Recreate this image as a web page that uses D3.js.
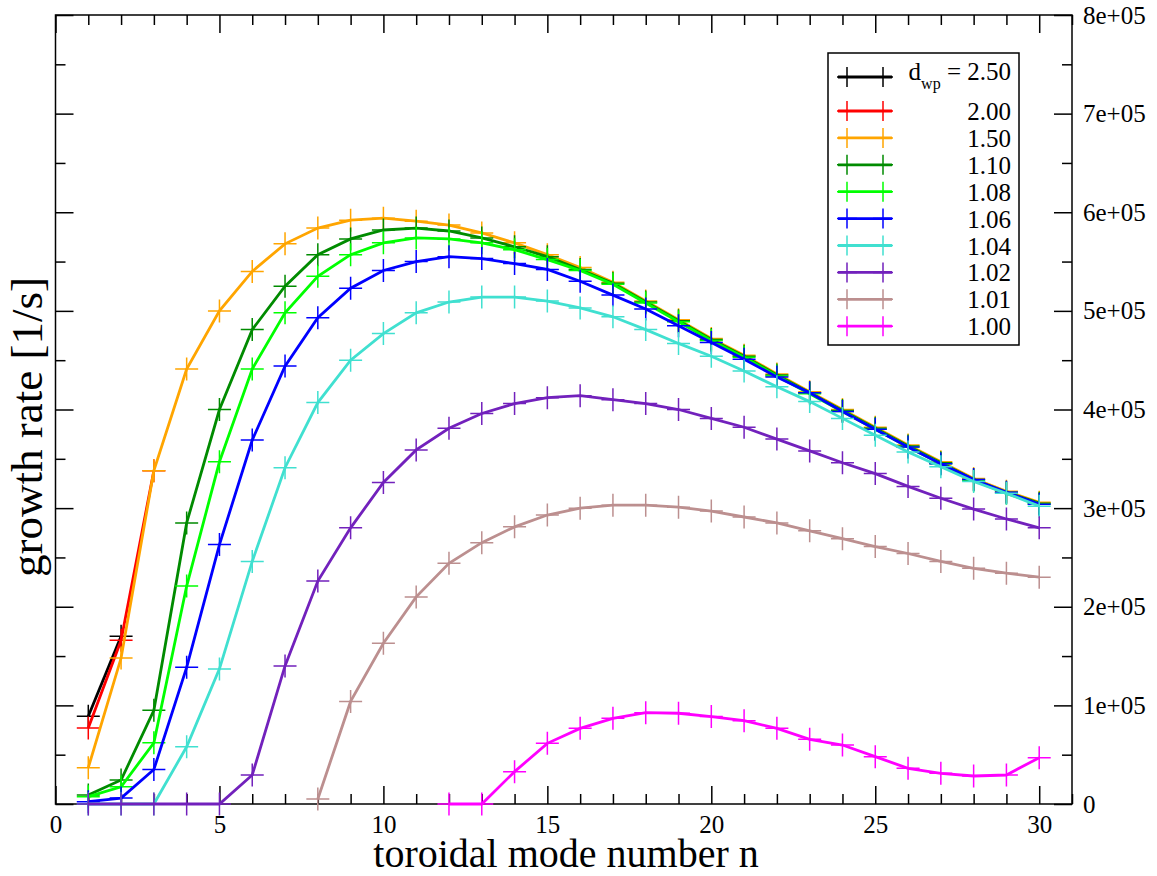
<!DOCTYPE html>
<html>
<head>
<meta charset="utf-8">
<script src="https://cdn.jsdelivr.net/npm/d3@7"></script>
<style>
  body { margin: 0; background: #fff; }
  text { font-family: "Liberation Serif", "Times New Roman", serif; fill: #000; }
</style>
</head>
<body>
<script>
// toroidal mode numbers
var nAll = [1, 2, 3, 4, 5, 6, 7, 8, 9, 10, 11, 12, 13, 14, 15,
            16, 17, 18, 19, 20, 21, 22, 23, 24, 25, 26, 27, 28, 29, 30];

// growth rates [1/s], one array per d_wp
var g250 = [89000, 170000];
var g200 = [77000, 166000, 338000];
var g150 = [36800, 148000, 338000, 441000, 500000, 540000, 568000, 584000, 592000, 594000,
            591000, 587000, 579000, 569000, 557000, 544000, 529000, 510000, 491000, 472000,
            455000, 436000, 418000, 400000, 382000, 364000, 347000, 330000, 317000, 306000];
var g110 = [9100, 24300, 95000, 285000, 400000, 481000, 525000, 557000, 573000, 582000,
            584000, 581000, 574000, 565000, 555000, 542000, 528000, 509000, 490000, 471000,
            454000, 435000, 417000, 399000, 381000, 363000, 346000, 329000, 316000, 305000];
var g108 = [7400, 17500, 62000, 221000, 347000, 441000, 498000, 535000, 557000, 569000,
            574000, 573000, 569000, 562000, 552000, 541000, 527000, 508000, 489000, 470000,
            453000, 434000, 416000, 398000, 380000, 362000, 345000, 328000, 315000, 304000];
var g106 = [2300, 6000, 35000, 138600, 263000, 369000, 444000, 493000, 523000, 541000,
            550000, 555000, 553000, 548000, 542000, 530000, 516000, 502000, 485000, 468000,
            451000, 433000, 417000, 398000, 380000, 362000, 345000, 329000, 316000, 304000];
var g104 = [0, 0, 0, 58000, 137000, 246000, 341000, 407000, 450000, 477000,
            498000, 509000, 514000, 514000, 510000, 503000, 494000, 481000, 467000, 454000,
            439000, 423000, 408000, 391000, 374000, 357000, 342000, 327000, 315000, 302000];
var g102 = [0, 0, 0, 0, 0, 29400, 140000, 226000, 280000, 326000,
            359000, 381000, 396000, 406000, 412000, 414000, 410000, 406000, 400000, 391000,
            382000, 370000, 358000, 346000, 335000, 322000, 310000, 299000, 289000, 280000];
var g101 = [5000, 104000, 163000, 210000, 244000, 265000, 281000, 293000, 300000, 303000,
            303000, 301000, 297000, 291000, 285000, 277000, 269000, 261000, 254000, 246000,
            239000, 234000, 230000];
var g100 = [0, 0, 32800, 61500, 76700, 86900, 92600, 92000, 88600, 84500,
            76700, 65600, 59800, 48000, 36200, 31100, 28400, 29400, 47000];

var firstN = [1, 1, 1, 1, 1, 1, 1, 1, 8, 12];
var dwpLabels = ["2.50", "2.00", "1.50", "1.10", "1.08", "1.06", "1.04", "1.02", "1.01", "1.00"];
var colors = ["#000000", "#ff0000", "#ffa500", "#008b00", "#00ff00", "#0000ff",
              "#40e0d0", "#7221bc", "#bc8f8f", "#ff00ff"];

var xTicks = [0, 5, 10, 15, 20, 25, 30];
var yTicks = [0, 1e5, 2e5, 3e5, 4e5, 5e5, 6e5, 7e5, 8e5];
var yTickLabels = ["0", "1e+05", "2e+05", "3e+05", "4e+05", "5e+05", "6e+05", "7e+05", "8e+05"];

var allSets = [g250, g200, g150, g110, g108, g106, g104, g102, g101, g100];
var series = allSets.map(function(vals, i) {
  return {
    label: dwpLabels[i],
    color: colors[i],
    points: vals.map(function(v, j) { return { n: nAll[firstN[i] - 1 + j], g: v }; })
  };
});

var w = 1157, h = 876;
var plotL = 55.5, plotR = 1072, plotT = 15, plotB = 804;

var svg = d3.select("body").append("svg")
            .attr("width", w)
            .attr("height", h);

svg.append("rect").attr("width", w).attr("height", h).attr("fill", "#fff");

var x = d3.scaleLinear().domain([0, 31]).range([plotL, plotR]);
var y = d3.scaleLinear().domain([0, 8e5]).range([plotB, plotT]);

var minorX = d3.range(0, 32).filter(function(d) { return d % 5 !== 0; });
var minorY = [0.5e5, 1.5e5, 2.5e5, 3.5e5, 4.5e5, 5.5e5, 6.5e5, 7.5e5];

function styleAxis(g) {
  g.selectAll(".domain").remove();
  g.selectAll("line").attr("stroke", "#000").attr("stroke-width", 1.5);
  g.selectAll("text").style("font-family", "'Liberation Serif', 'Times New Roman', serif")
   .attr("font-size", 25).attr("fill", "#000");
}

// bottom axis
svg.append("g").attr("transform", "translate(0," + plotB + ")")
   .call(d3.axisBottom(x).tickValues(xTicks).tickSize(-18).tickPadding(11).tickFormat(d3.format("d")))
   .call(styleAxis);
svg.append("g").attr("transform", "translate(0," + plotB + ")")
   .call(d3.axisBottom(x).tickValues(minorX).tickSize(-10).tickFormat(""))
   .call(styleAxis);

// top axis
svg.append("g").attr("transform", "translate(0," + plotT + ")")
   .call(d3.axisTop(x).tickValues(xTicks).tickSize(-18).tickFormat(""))
   .call(styleAxis);
svg.append("g").attr("transform", "translate(0," + plotT + ")")
   .call(d3.axisTop(x).tickValues(minorX).tickSize(-10).tickFormat(""))
   .call(styleAxis);

// left axis
svg.append("g").attr("transform", "translate(" + plotL + ",0)")
   .call(d3.axisLeft(y).tickValues(yTicks).tickSize(-18).tickFormat(""))
   .call(styleAxis);
svg.append("g").attr("transform", "translate(" + plotL + ",0)")
   .call(d3.axisLeft(y).tickValues(minorY).tickSize(-10).tickFormat(""))
   .call(styleAxis);

// right axis with labels
svg.append("g").attr("transform", "translate(" + plotR + ",0)")
   .call(d3.axisRight(y).tickValues(yTicks).tickSize(-18).tickPadding(11)
          .tickFormat(function(d, i) { return yTickLabels[i]; }))
   .call(styleAxis);
svg.append("g").attr("transform", "translate(" + plotR + ",0)")
   .call(d3.axisRight(y).tickValues(minorY).tickSize(-10).tickFormat(""))
   .call(styleAxis);

// frame
svg.append("rect")
   .attr("x", plotL).attr("y", plotT)
   .attr("width", plotR - plotL).attr("height", plotB - plotT)
   .attr("fill", "none").attr("stroke", "#000").attr("stroke-width", 1.5);

// series
var line = d3.line()
             .x(function(d) { return x(d.n); })
             .y(function(d) { return y(d.g); });

var plus = "M-11.5,0H11.5M0,-11.5V11.5";

series.forEach(function(s) {
  var g = svg.append("g");
  g.append("path")
   .attr("d", line(s.points))
   .attr("fill", "none")
   .attr("stroke", s.color)
   .attr("stroke-width", 2.8);
  g.selectAll("path.mk")
   .data(s.points)
   .enter()
   .append("path")
   .attr("class", "mk")
   .attr("d", plus)
   .attr("transform", function(d) { return "translate(" + x(d.n) + "," + y(d.g) + ")"; })
   .attr("stroke", s.color)
   .attr("stroke-width", 1.5)
   .attr("fill", "none");
});

// legend
var legend = svg.append("g");
legend.append("rect")
      .attr("x", 828).attr("y", 53).attr("width", 191).attr("height", 292)
      .attr("fill", "#fff").attr("stroke", "#000").attr("stroke-width", 1.5);

series.forEach(function(s, i) {
  var ry = i === 0 ? 77 : 111 + (i - 1) * 26.9;
  legend.append("line")
        .attr("x1", 838).attr("x2", 892).attr("y1", ry).attr("y2", ry)
        .attr("stroke", s.color).attr("stroke-width", 2.8);
  [847, 883].forEach(function(px) {
    legend.append("path")
          .attr("d", "M-10,0H10M0,-10V10")
          .attr("transform", "translate(" + px + "," + ry + ")")
          .attr("stroke", s.color).attr("stroke-width", 1.5);
  });
  var t = legend.append("text")
                .attr("x", 1011)
                .attr("text-anchor", "end")
                .attr("font-size", 25);
  if (i === 0) {
    t.attr("y", ry + 3);
    t.append("tspan").text("d");
    t.append("tspan").attr("font-size", 16).attr("dy", 9).text("wp");
    t.append("tspan").attr("dy", -9).text(" = " + s.label);
  } else {
    t.attr("y", ry + 9).text(s.label);
  }
});

// axis titles
svg.append("text")
   .attr("x", 566).attr("y", 867)
   .attr("text-anchor", "middle")
   .attr("font-size", 40)
   .text("toroidal mode number n");

svg.append("text")
   .attr("transform", "translate(42,427) rotate(-90)")
   .attr("text-anchor", "middle")
   .attr("font-size", 45)
   .text("growth rate [1/s]");
</script>
</body>
</html>
